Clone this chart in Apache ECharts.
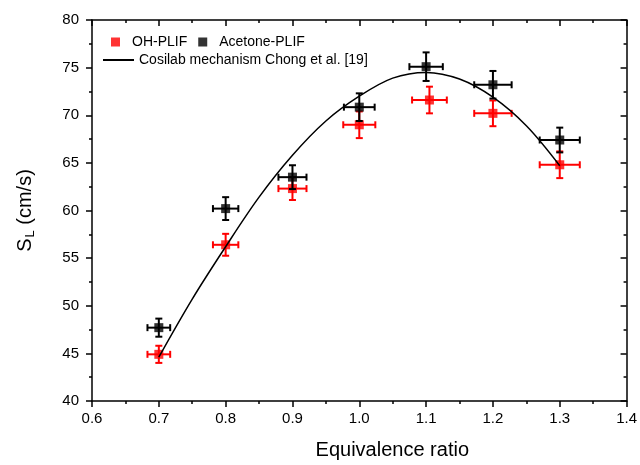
<!DOCTYPE html>
<html>
<head>
<meta charset="utf-8">
<script src="https://cdn.jsdelivr.net/npm/echarts@6/dist/echarts.min.js"></script>
<style>
html,body{margin:0;padding:0;background:#fff;}
#chart{width:640px;height:465px;}
</style>
</head>
<body>
<div id="chart"></div>
<script>
// ---- data ----
const xTicks = [0.6, 0.7, 0.8, 0.9, 1.0, 1.1, 1.2, 1.3, 1.4];
const yTicks = [40, 45, 50, 55, 60, 65, 70, 75, 80];

const ohPhi  = [0.7, 0.8, 0.9, 1.0, 1.105, 1.2, 1.3];
const ohSL   = [44.9, 56.4, 62.3, 69.0, 71.6, 70.2, 64.8];
const ohXErr = [0.017, 0.019, 0.021, 0.024, 0.026, 0.028, 0.030];
const ohYErr = [0.9, 1.15, 1.2, 1.4, 1.4, 1.35, 1.4];

const acPhi  = [0.7, 0.8, 0.9, 1.0, 1.1, 1.2, 1.3];
const acSL   = [47.7, 60.2, 63.5, 70.85, 75.1, 73.2, 67.4];
const acXErr = [0.017, 0.019, 0.021, 0.023, 0.025, 0.028, 0.030];
const acYErr = [0.95, 1.2, 1.25, 1.45, 1.5, 1.45, 1.3];

const simPhi = [0.70, 0.75, 0.80, 0.85, 0.90, 0.95, 1.00, 1.05, 1.10, 1.15, 1.20, 1.25, 1.30];
const simSL  = [44.6, 50.7, 56.2, 61.4, 65.8, 69.4, 72.0, 73.9, 74.5, 73.8, 71.9, 68.9, 64.7];

const FONT = "'Liberation Sans', Arial, sans-serif";
const RED = '#ff0000', BLACK = '#000000';

function zip(a, b, c, d) { return a.map((v, i) => d ? [v, b[i], c[i], d[i]] : [v, b[i]]); }

function errRender(color) {
  return function (params, api) {
    const x = api.value(0), y = api.value(1), ex = api.value(2), ey = api.value(3);
    const l = api.coord([x - ex, y]), r = api.coord([x + ex, y]);
    const t = api.coord([x, y + ey]), b = api.coord([x, y - ey]);
    const cap = 3.5;
    const st = { stroke: color, lineWidth: 2 };
    const ln = (x1, y1, x2, y2) => ({ type: 'line', shape: { x1, y1, x2, y2 }, style: st });
    return {
      type: 'group',
      children: [
        ln(l[0], l[1], r[0], r[1]),
        ln(t[0], t[1], b[0], b[1]),
        ln(l[0], l[1] - cap, l[0], l[1] + cap),
        ln(r[0], r[1] - cap, r[0], r[1] + cap),
        ln(t[0] - cap, t[1], t[0] + cap, t[1]),
        ln(b[0] - cap, b[1], b[0] + cap, b[1])
      ]
    };
  };
}

const axisLineStyle = { color: BLACK, width: 1.5 };
const xMin = xTicks[0], xMax = xTicks[xTicks.length - 1];
const yMin = yTicks[0], yMax = yTicks[yTicks.length - 1];

const chart = echarts.init(document.getElementById('chart'), null, { renderer: 'canvas' });
chart.setOption({
  animation: false,
  backgroundColor: '#fff',
  textStyle: { fontFamily: FONT },
  grid: { left: 92, right: 12, top: 20, bottom: 59, containLabel: false },
  legend: [
    {
      data: ['OH-PLIF', 'Acetone-PLIF'],
      left: 106, top: 30,
      icon: 'rect', itemWidth: 9, itemHeight: 9, itemGap: 11,
      textStyle: { fontFamily: FONT, fontSize: 14, color: '#000', padding: [0, 0, 0, 7] },
      selectedMode: false
    },
    {
      data: ['Cosilab mechanism Chong et al. [19]'],
      left: 98, top: 48,
      icon: 'rect', itemWidth: 31, itemHeight: 2,
      textStyle: { fontFamily: FONT, fontSize: 14, color: '#000' },
      selectedMode: false
    }
  ],
  xAxis: [
    {
      type: 'value', position: 'bottom', min: xMin, max: xMax, interval: 0.1,
      name: 'Equivalence ratio', nameLocation: 'middle', nameGap: 39,
      nameTextStyle: { fontFamily: FONT, fontSize: 20, color: '#000', padding: [0, 0, 0, 66] },
      axisLine: { show: true, onZero: false, lineStyle: axisLineStyle },
      axisTick: { show: true, inside: false, length: 6, lineStyle: axisLineStyle },
      minorTick: { show: true, splitNumber: 2, length: 3, lineStyle: axisLineStyle },
      axisLabel: { fontFamily: FONT, fontSize: 15, color: '#000', margin: 10, formatter: v => v.toFixed(1) },
      splitLine: { show: false }
    },
    {
      type: 'value', position: 'top', min: xMin, max: xMax, interval: 0.1,
      axisLine: { show: true, onZero: false, lineStyle: axisLineStyle },
      axisTick: { show: true, inside: true, length: 6, lineStyle: axisLineStyle },
      minorTick: { show: true, splitNumber: 2, length: 3, lineStyle: axisLineStyle },
      axisLabel: { show: false },
      splitLine: { show: false }
    }
  ],
  yAxis: [
    {
      type: 'value', position: 'left', min: yMin, max: yMax, interval: 5,
      name: '{a|S}{b|L}{a| (cm/s)}', nameLocation: 'middle', nameGap: 55, nameRotate: 90,
      nameTextStyle: {
        color: '#000',
        rich: {
          a: { fontFamily: FONT, fontSize: 20, color: '#000' },
          b: { fontFamily: FONT, fontSize: 13, color: '#000', padding: [11, 0, 0, 1] }
        }
      },
      axisLine: { show: true, onZero: false, lineStyle: axisLineStyle },
      axisTick: { show: true, inside: false, length: 6, lineStyle: axisLineStyle },
      minorTick: { show: true, splitNumber: 2, length: 3, lineStyle: axisLineStyle },
      axisLabel: { fontFamily: FONT, fontSize: 15, color: '#000', margin: 13 },
      splitLine: { show: false }
    },
    {
      type: 'value', position: 'right', min: yMin, max: yMax, interval: 5,
      axisLine: { show: true, onZero: false, lineStyle: axisLineStyle },
      axisTick: { show: true, inside: true, length: 6, lineStyle: axisLineStyle },
      minorTick: { show: true, splitNumber: 2, length: 3, lineStyle: axisLineStyle },
      axisLabel: { show: false },
      splitLine: { show: false }
    }
  ],
  series: [
    {
      name: 'ohErr', type: 'custom', xAxisIndex: 0, yAxisIndex: 0,
      renderItem: errRender(RED), encode: { x: 0, y: 1 },
      data: zip(ohPhi, ohSL, ohXErr, ohYErr), z: 2, silent: true
    },
    {
      name: 'OH-PLIF', type: 'scatter', xAxisIndex: 0, yAxisIndex: 0,
      symbol: 'rect', symbolSize: 9, itemStyle: { color: RED },
      data: zip(ohPhi, ohSL), z: 3
    },
    {
      name: 'acErr', type: 'custom', xAxisIndex: 0, yAxisIndex: 0,
      renderItem: errRender(BLACK), encode: { x: 0, y: 1 },
      data: zip(acPhi, acSL, acXErr, acYErr), z: 4, silent: true
    },
    {
      name: 'Acetone-PLIF', type: 'scatter', xAxisIndex: 0, yAxisIndex: 0,
      symbol: 'rect', symbolSize: 9, itemStyle: { color: BLACK },
      data: zip(acPhi, acSL), z: 5
    },
    {
      name: 'Cosilab mechanism Chong et al. [19]', type: 'line', xAxisIndex: 0, yAxisIndex: 0,
      smooth: 0.35, showSymbol: false, symbol: 'none',
      lineStyle: { color: BLACK, width: 1.5 }, itemStyle: { color: BLACK },
      data: zip(simPhi, simSL), z: 6
    }
  ]
});
</script>
</body>
</html>
